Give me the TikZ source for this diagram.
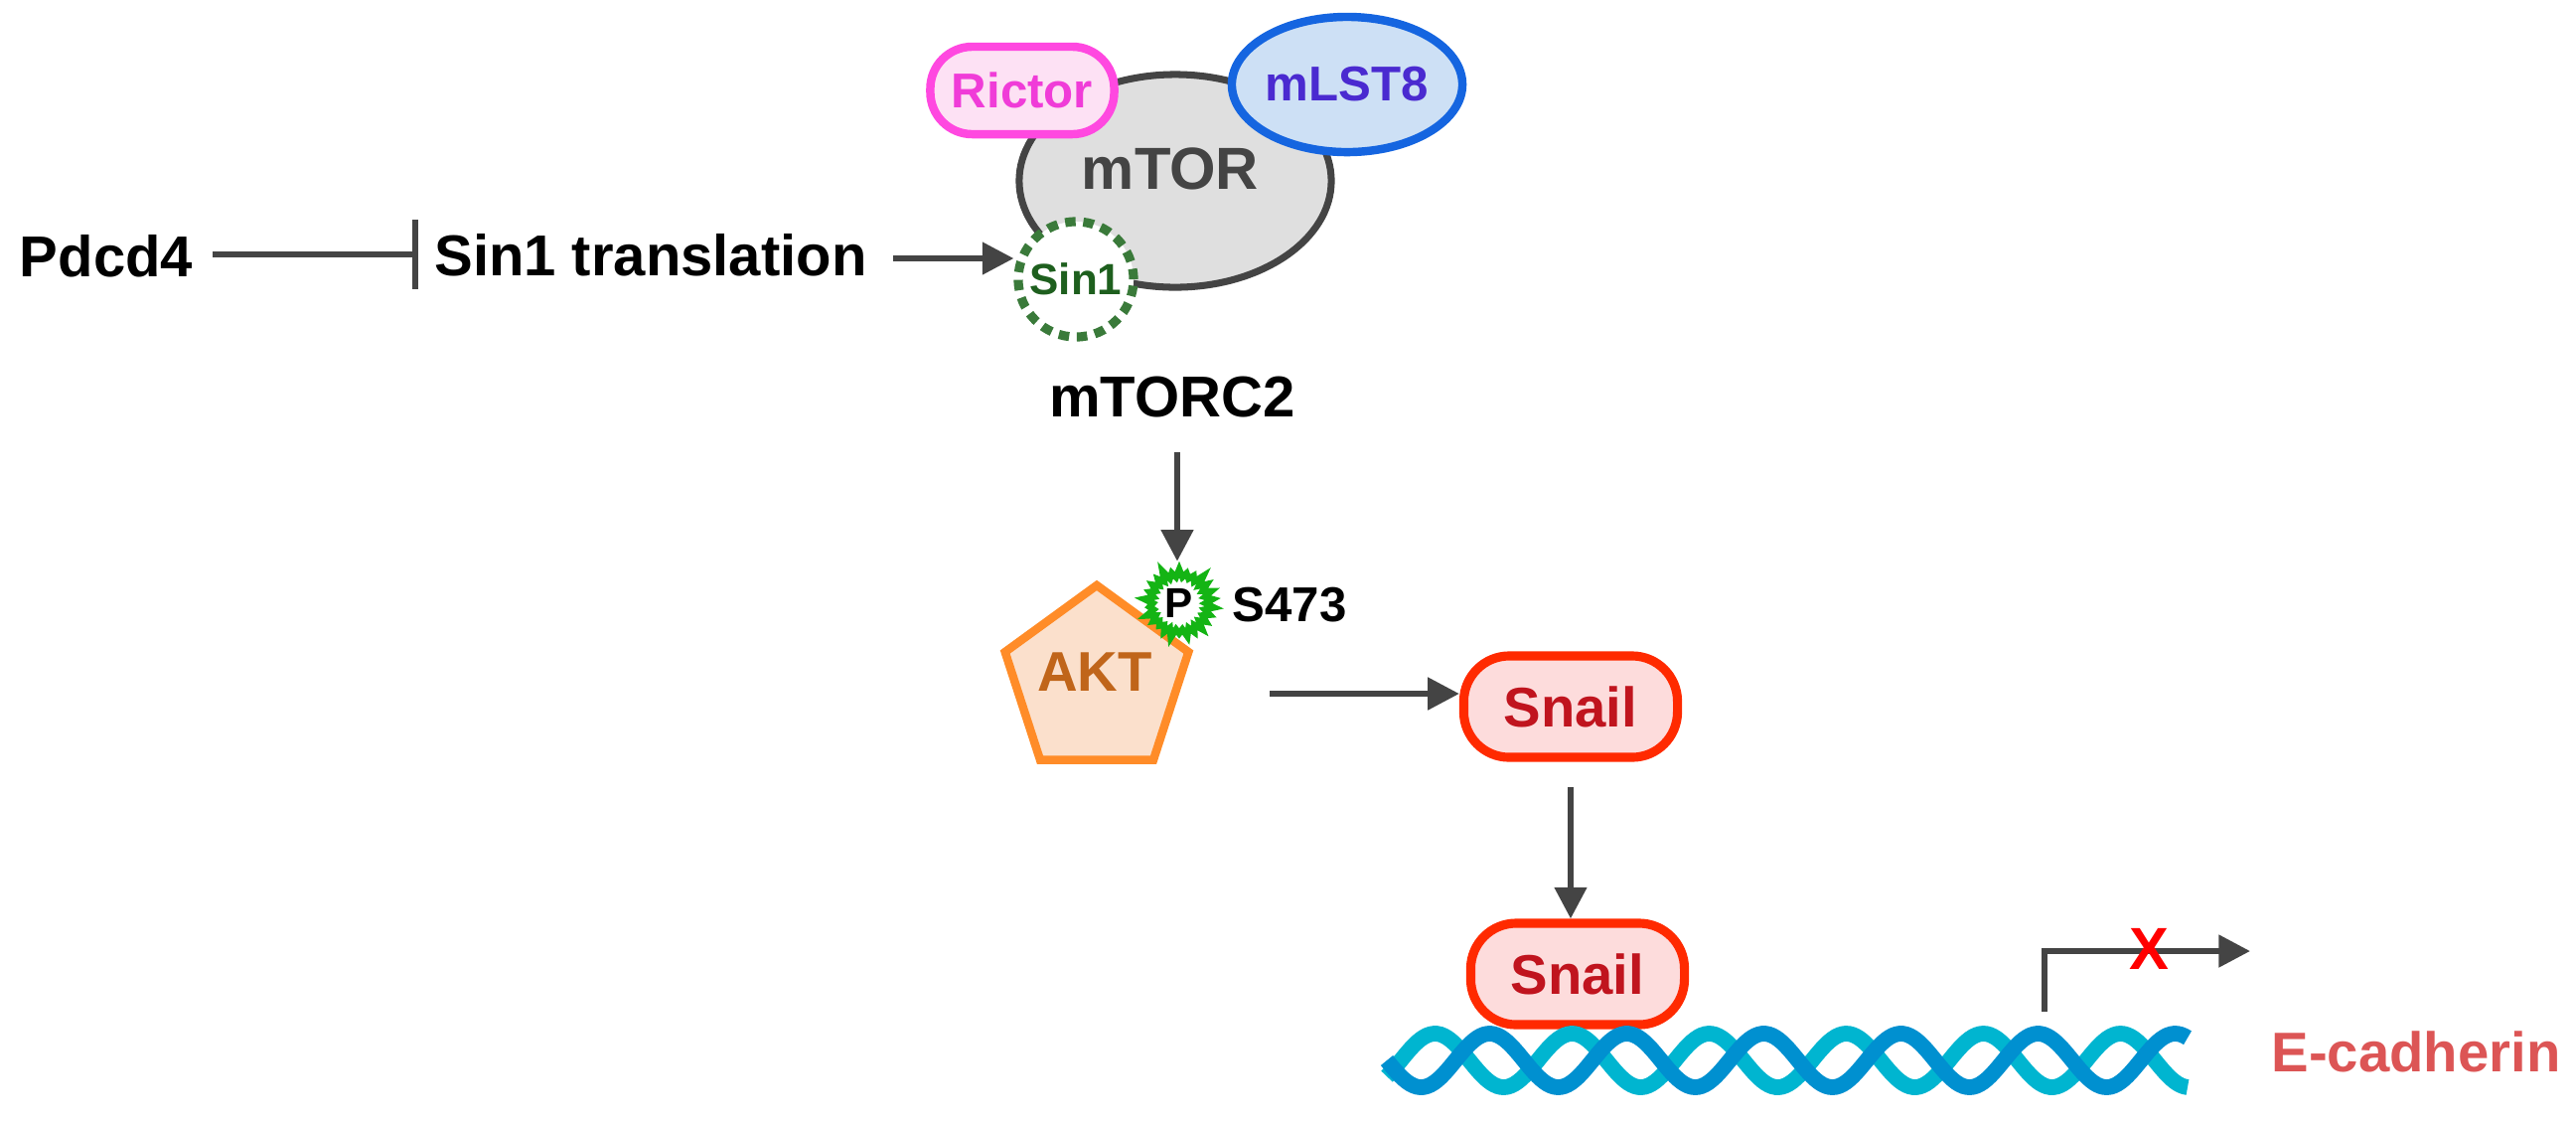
\documentclass[tikz,border=0pt]{standalone}
\usepackage{fontspec}
\setmainfont{Liberation Sans}
\usetikzlibrary{shapes.geometric,shapes.symbols,arrows.meta}
\definecolor{arr}{HTML}{444444}
\definecolor{snailT}{HTML}{C0141E}
\definecolor{snailF}{HTML}{FDDCDC}
\definecolor{snailD}{HTML}{FF2A00}
\definecolor{dnaA}{HTML}{0090D0}
\definecolor{dnaB}{HTML}{00B5D0}
\tikzset{
  x=0.01cm,y=-0.01cm,
  lab/.style={font=\fontsize{16.5}{20}\selectfont\bfseries},
  arr/.style={draw=arr,line width=1.7pt,-{Triangle[length=9pt,width=9pt]}},
  snail/.style={draw=snailD,fill=snailF,line width=2.6pt,rounded corners=13pt,minimum width=2.15cm,minimum height=1.02cm,text=snailT,font=\fontsize{16}{19}\selectfont\bfseries},
}
\begin{document}
\begin{tikzpicture}
\useasboundingbox (0,0) rectangle (2593,1132);
% texts top row
\node[lab] (pdcd4) at (107,258) {Pdcd4};
\node[lab,inner sep=1pt] (sin1t) at (655,257) {Sin1 translation};
\draw[arr,-{Bar[width=20pt]}] (pdcd4.east)+(8,-2) coordinate (p1) -- ([xshift=-0.12cm]sin1t.west|-p1);
% mTORC2 complex
\node[ellipse,draw=arr,fill=gray!25,line width=2pt,minimum width=3.14cm,minimum height=2.14cm] (mtor) at (1183,182) {};
\node[font=\fontsize{17}{20}\selectfont\bfseries,text=arr] at (1178,170) {mTOR};
\node[draw={rgb,255:red,255;green,72;blue,224},fill={rgb,255:red,253;green,225;blue,244},line width=2.4pt,rounded corners=12pt,minimum width=1.85cm,minimum height=0.88cm,text={rgb,255:red,240;green,60;blue,216},font=\fontsize{14}{17}\selectfont\bfseries] (rictor) at (1029,91) {Rictor};
\node[ellipse,inner sep=0pt,draw={rgb,255:red,21;green,101;blue,224},fill={rgb,255:red,205;green,224;blue,245},line width=2.4pt,minimum width=2.1cm,minimum height=1.36cm,text={rgb,255:red,74;green,42;blue,208},font=\fontsize{14}{17}\selectfont\bfseries] (mlst8) at (1356,85) {mLST8};
\node[circle,draw={rgb,255:red,58;green,122;blue,58},fill=white,line width=2.6pt,dash pattern=on 3pt off 2.2pt,minimum size=1.16cm,inner sep=0pt,text={rgb,255:red,30;green,95;blue,30},font=\fontsize{12.5}{15}\selectfont\bfseries] (sin1) at (1083,281) {Sin1};
\draw[arr] (sin1t.east)+(22,3) coordinate (a1) -- (sin1.west|-a1);
\node[lab] (mtorc2) at (1180,400) {mTORC2};
% AKT
\node[regular polygon,regular polygon sides=5,draw={rgb,255:red,255;green,140;blue,40},fill={rgb,255:red,251;green,224;blue,204},line width=2.4pt,minimum size=1.94cm,inner sep=0pt] (akt) at (1104,686) {};
\node[font=\fontsize{16}{19}\selectfont\bfseries,text={rgb,255:red,192;green,101;blue,26}] at (1102,676) {AKT};
\node[starburst,starburst points=26,starburst point height=3pt,draw={rgb,255:red,20;green,180;blue,20},fill=white,line width=1.8pt,minimum size=0.74cm,inner sep=0pt,font=\fontsize{12}{14}\selectfont\bfseries] (p) at (1187,607) {P};
\node[font=\fontsize{14}{17}\selectfont\bfseries,anchor=west] (s473) at (1228,609) {S473};
\draw[arr] (mtorc2.south)+(5,22) coordinate (a2) -- (a2|-p.north);
% Snail
\node[snail] (sn1) at (1581,711) {Snail};
\node[snail] (sn2) at (1588,980) {Snail};
\coordinate (a3) at (1278,698);
\draw[arr] (a3) -- (sn1.west|-a3);
\draw[arr] (sn1.south)+(0,25) coordinate (a4) -- (a4|-sn2.north);
% DNA
\draw[dnaB,line width=4.5pt] plot[domain=0:806,samples=240] ({\x+1396},{1067+27*sin((\x+55)/138*360)});
\draw[dnaA,line width=4.5pt] plot[domain=0:806,samples=240] ({\x+1396},{1067+27*sin(\x/138*360)});
% promoter
\coordinate (pr) at (2058,1018);
\coordinate (pr2) at (2058,957);
\coordinate (pe) at (2265,957);
\draw[arr] (pr) -- (pr2) -- (pe);
\node[text=red,font=\fontsize{17}{20}\selectfont\bfseries] (x) at (2163,955) {X};
\node[font=\fontsize{16}{19}\selectfont\bfseries,text={rgb,255:red,220;green,85;blue,85}] (ecad) at (2432,1058) {E-cadherin};
\end{tikzpicture}
\end{document}
